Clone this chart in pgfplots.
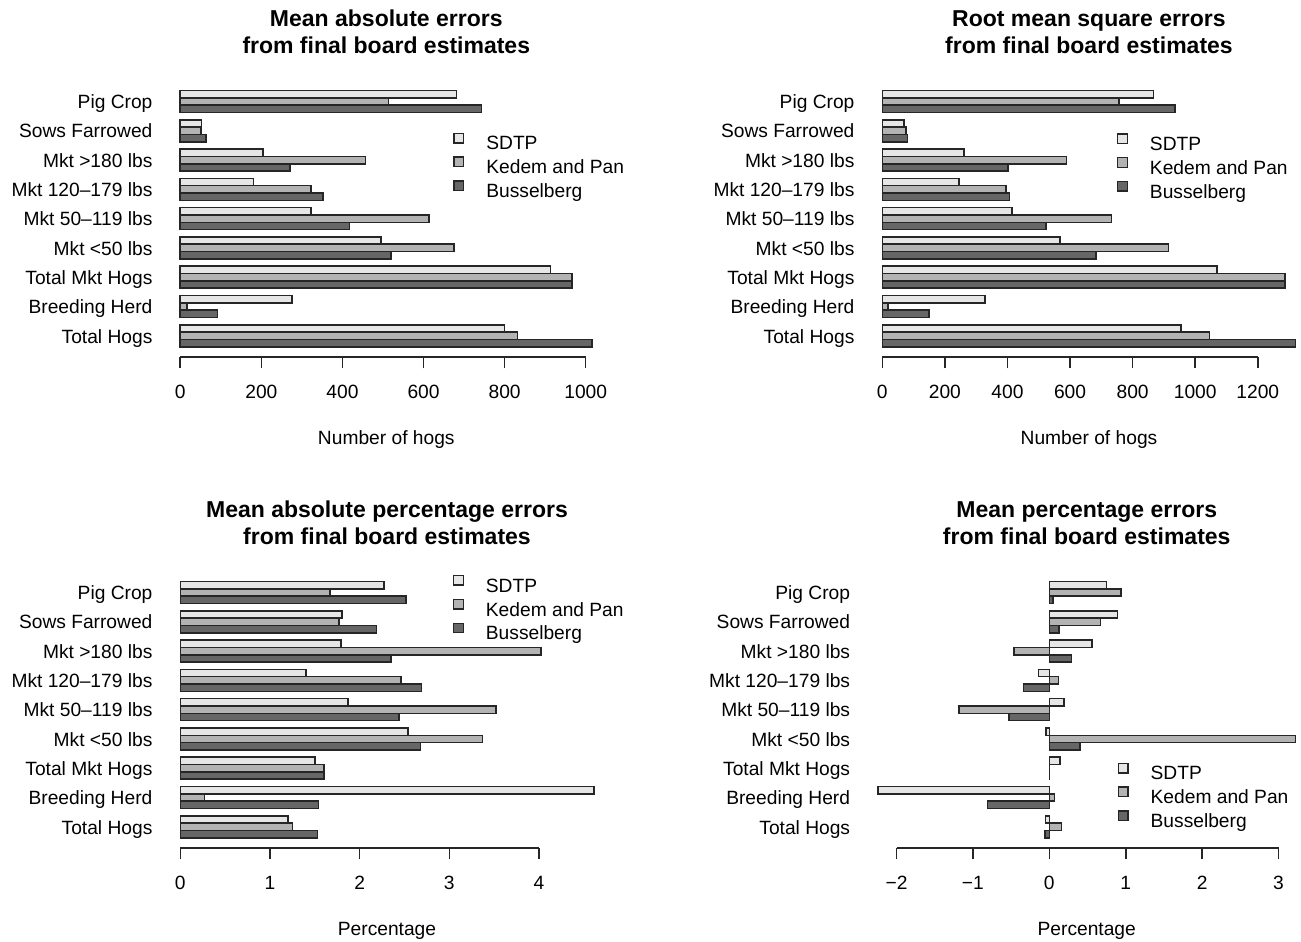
\documentclass[border=0pt]{standalone}
\usepackage{fontspec}
\setmainfont{Liberation Sans}
\usepackage{pgfplots}
\pgfplotsset{compat=1.18}
\definecolor{cS}{HTML}{E6E6E6}
\definecolor{cK}{HTML}{B3B3B3}
\definecolor{cB}{HTML}{666666}
\definecolor{edge}{HTML}{262626}
\pgfplotsset{
  boxleg/.style={legend image code/.code={\draw[##1, line width=0.7pt] (0pt,1.05pt) rectangle (4.75pt,5.8pt);}},
  barbase/.style={xbar, bar width=1, bar shift=0, draw=edge, line width=0.8pt, boxleg},
  sS/.style={barbase, fill=cS},
  sK/.style={barbase, fill=cK},
  sB/.style={barbase, fill=cB},
  hogaxis/.style={
    scale only axis, height=138.45pt, anchor=south west,
    y dir=reverse, ymin=-0.4, ymax=37.4,
    axis x line*=bottom, axis y line*=left,
    x axis line style={draw=none}, y axis line style={draw=none},
    ytick={2.5,6.5,10.5,14.5,18.5,22.5,26.5,30.5,34.5},
    yticklabels={Pig Crop,Sows Farrowed,Mkt >180 lbs,Mkt 120–179 lbs,Mkt 50–119 lbs,Mkt <50 lbs,Total Mkt Hogs,Breeding Herd,Total Hogs},
    ytick style={draw=none},
    yticklabel style={anchor=base east, inner sep=0pt, xshift=0.15pt, yshift=-3.6pt},
    tick align=outside, major tick length=5.65pt,
    xtick style={draw=edge, line width=0.8pt},
    xticklabel style={anchor=base, inner sep=0pt, yshift=-15.2pt},
    xlabel style={at={(axis description cs:0.5,0)}, anchor=base, inner sep=0pt, yshift=-43.5pt},
    title style={at={(axis description cs:0.5,1)}, anchor=south, inner sep=0pt, yshift=7.1pt, align=center, font=\bfseries\fontsize{11.5}{13.4}\selectfont},
    legend style={draw=none, fill=none, inner sep=0pt, anchor=north west, row sep=1.25pt,
      nodes={inner sep=0pt, text height=7pt, text depth=2pt},
      /tikz/every odd column/.append style={column sep=11pt}},
    legend cell align=left,
    clip=false,
    font=\fontsize{9.6}{11.5}\selectfont,
  }
}
\begin{document}
\begin{tikzpicture}
\useasboundingbox (0pt,0pt) rectangle (650.5pt,-471pt);
% Panel 1
\begin{axis}[hogaxis, at={(81.9pt,-178.55pt)}, width=222.5pt,
  xmin=-40.7, xmax=1057,
  xtick={0,200,400,600,800,1000}, xticklabels={0,200,400,600,800,1000},
  xlabel={Number of hogs},
  title={Mean absolute errors\\from final board estimates},
  legend style={at={(0.650,0.812)}}]
\addplot[sS] coordinates {(681,1.5) (52,5.5) (204,9.5) (181,13.5) (322,17.5) (495,21.5) (913,25.5) (276,29.5) (800,33.5)};
\addplot[sK] coordinates {(514,2.5) (51,6.5) (457,10.5) (323,14.5) (613,18.5) (675,22.5) (966,26.5) (17,30.5) (832,34.5)};
\addplot[sB] coordinates {(743,3.5) (63,7.5) (271,11.5) (352,15.5) (417,19.5) (519,23.5) (966,27.5) (92,31.5) (1016,35.5)};
\legend{SDTP,Kedem and Pan,Busselberg}
\draw[edge, line width=0.8pt] (axis cs:0,37.4) -- (axis cs:1000,37.4);
\end{axis}
% Panel 2
\begin{axis}[hogaxis, at={(432.9pt,-178.55pt)}, width=223.2pt,
  xmin=-52.8, xmax=1373.8,
  xtick={0,200,400,600,800,1000,1200}, xticklabels={0,200,400,600,800,1000,1200},
  xlabel={Number of hogs},
  title={Root mean square errors\\from final board estimates},
  legend style={at={(0.562,0.810)}}]
\addplot[sS] coordinates {(866,1.5) (70,5.5) (261,9.5) (245,13.5) (415,17.5) (568,21.5) (1069,25.5) (328,29.5) (955,33.5)};
\addplot[sK] coordinates {(757,2.5) (75,6.5) (589,10.5) (395,14.5) (732,18.5) (914,22.5) (1286,26.5) (19,30.5) (1045,34.5)};
\addplot[sB] coordinates {(936,3.5) (81,7.5) (401,11.5) (407,15.5) (524,19.5) (683,23.5) (1286,27.5) (150,31.5) (1321,35.5)};
\legend{SDTP,Kedem and Pan,Busselberg}
\draw[edge, line width=0.8pt] (axis cs:0,37.4) -- (axis cs:1200,37.4);
\end{axis}
% Panel 3
\begin{axis}[hogaxis, at={(81.9pt,-424.05pt)}, width=223.2pt,
  xmin=-0.184, xmax=4.794,
  xtick={0,1,2,3,4}, xticklabels={0,1,2,3,4},
  xlabel={Percentage},
  title={Mean absolute percentage errors\\from final board estimates},
  legend style={at={(0.647,0.988)}}]
\addplot[sS] coordinates {(2.27,1.5) (1.80,5.5) (1.79,9.5) (1.40,13.5) (1.87,17.5) (2.54,21.5) (1.50,25.5) (4.61,29.5) (1.20,33.5)};
\addplot[sK] coordinates {(1.67,2.5) (1.77,6.5) (4.02,10.5) (2.46,14.5) (3.52,18.5) (3.37,22.5) (1.60,26.5) (0.27,30.5) (1.25,34.5)};
\addplot[sB] coordinates {(2.52,3.5) (2.19,7.5) (2.35,11.5) (2.69,15.5) (2.44,19.5) (2.68,23.5) (1.60,27.5) (1.54,31.5) (1.53,35.5)};
\legend{SDTP,Kedem and Pan,Busselberg}
\draw[edge, line width=0.8pt] (axis cs:0,37.4) -- (axis cs:4,37.4);
\end{axis}
% Panel 4
\begin{axis}[hogaxis, at={(430.75pt,-424.05pt)}, width=225.25pt,
  xmin=-2.458, xmax=3.438,
  xtick={-2,-1,0,1,2,3}, xticklabels={−2,−1,0,1,2,3},
  xlabel={Percentage},
  title={Mean percentage errors\\from final board estimates},
  legend style={at={(0.568,0.310)}}]
\addplot[sS] coordinates {(0.75,1.5) (0.89,5.5) (0.56,9.5) (-0.14,13.5) (0.19,17.5) (-0.04,21.5) (0.14,25.5) (-2.24,29.5) (-0.05,33.5)};
\addplot[sK] coordinates {(0.94,2.5) (0.67,6.5) (-0.46,10.5) (0.12,14.5) (-1.18,18.5) (3.22,22.5) (0.003,26.5) (0.07,30.5) (0.16,34.5)};
\addplot[sB] coordinates {(0.05,3.5) (0.13,7.5) (0.29,11.5) (-0.34,15.5) (-0.53,19.5) (0.40,23.5) (0.003,27.5) (-0.81,31.5) (-0.06,35.5)};
\legend{SDTP,Kedem and Pan,Busselberg}
\draw[edge, line width=0.8pt] (axis cs:-2,37.4) -- (axis cs:3,37.4);
\end{axis}
\end{tikzpicture}
\end{document}
